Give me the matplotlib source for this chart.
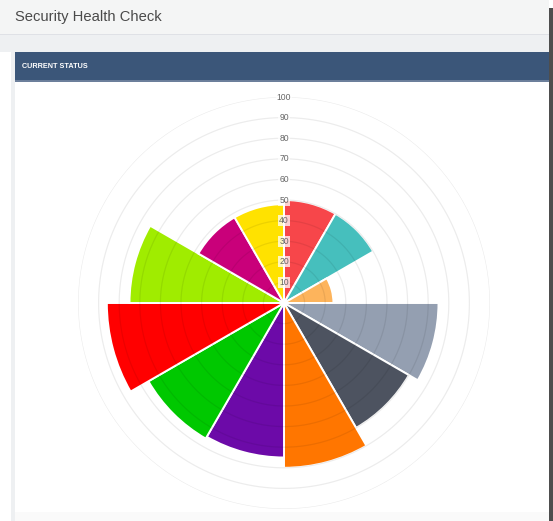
import numpy as np
import matplotlib
matplotlib.use("Agg")
import matplotlib.pyplot as plt
from matplotlib.patches import Rectangle

W, H = 553, 521
DPI = 100

title = "Security Health Check"
panel_title = "CURRENT STATUS"
values = [50, 50, 24, 75, 70, 80, 75, 76, 86, 75, 48, 48]
colors = ["#F7464A", "#46BFBD", "#FDB45C", "#949FB1", "#4D5360", "#FF7600",
          "#6C0AA8", "#00C800", "#FF0000", "#A0EC00", "#C9007A", "#FFE200"]
ticks = [10, 20, 30, 40, 50, 60, 70, 80, 90, 100]

fig = plt.figure(figsize=(W / DPI, H / DPI), dpi=DPI)
fig.patch.set_facecolor("white")

def px_rect(x0, y0, x1, y1, color, z=0):
    fig.patches.append(Rectangle((x0 / W, 1 - y1 / H), (x1 - x0) / W, (y1 - y0) / H,
                                 transform=fig.transFigure, facecolor=color,
                                 edgecolor="none", zorder=z))

# page header
px_rect(0, 0, 549, 34, "#f4f5f5")
px_rect(0, 34, 549, 35, "#dfe1e6")
px_rect(0, 35, 549, 52, "#eef0f2")
px_rect(11, 52, 15, 521, "#eef0f2")
# panel header
px_rect(15, 52, 549, 81, "#3b5679")
px_rect(15, 80, 549, 81.5, "#6c7f9b")
# right dark edge
px_rect(549, 8, 553, 521, "#4e4e4e")
px_rect(15, 512, 549, 521, "#fafafa")

fig.text(15 / W, 1 - 17 / H, title, fontsize=10.6, color="#4a4a4a",
         family="Liberation Sans", va="center", ha="left")
fig.text(22 / W, 1 - 66.5 / H, panel_title, fontsize=5.2, color="white",
         family="Liberation Sans", weight="bold", va="center", ha="left")

cx, cy, R = 284, 303, 206
ax = fig.add_axes([(cx - R) / W, (H - cy - R) / H, 2 * R / W, 2 * R / H],
                  projection="polar")
ax.set_theta_zero_location("N")
ax.set_theta_direction(-1)
ax.set_ylim(0, 100)
ax.set_facecolor("none")
ax.spines["polar"].set_visible(False)
ax.grid(False)
ax.set_xticks([])
ax.set_yticks([])

n = len(values)
width = 2 * np.pi / n
thetas = np.arange(n) * width + width / 2
ax.bar(thetas, values, width=width, color=colors, edgecolor="white",
       linewidth=1.4, zorder=2)

tt = np.linspace(0, 2 * np.pi, 400)
for t in ticks:
    ax.plot(tt, np.full_like(tt, t), color=(0, 0, 0, 0.075), lw=0.9, zorder=3)

for t in ticks:
    ax.text(0, t, str(t), fontsize=6.2, color="#666666", ha="center",
            va="center", family="Liberation Sans", zorder=5,
            bbox=dict(boxstyle="square,pad=0.12", fc=(1, 1, 1, 0.75), ec="none"))

fig.savefig("out.png", dpi=DPI)
